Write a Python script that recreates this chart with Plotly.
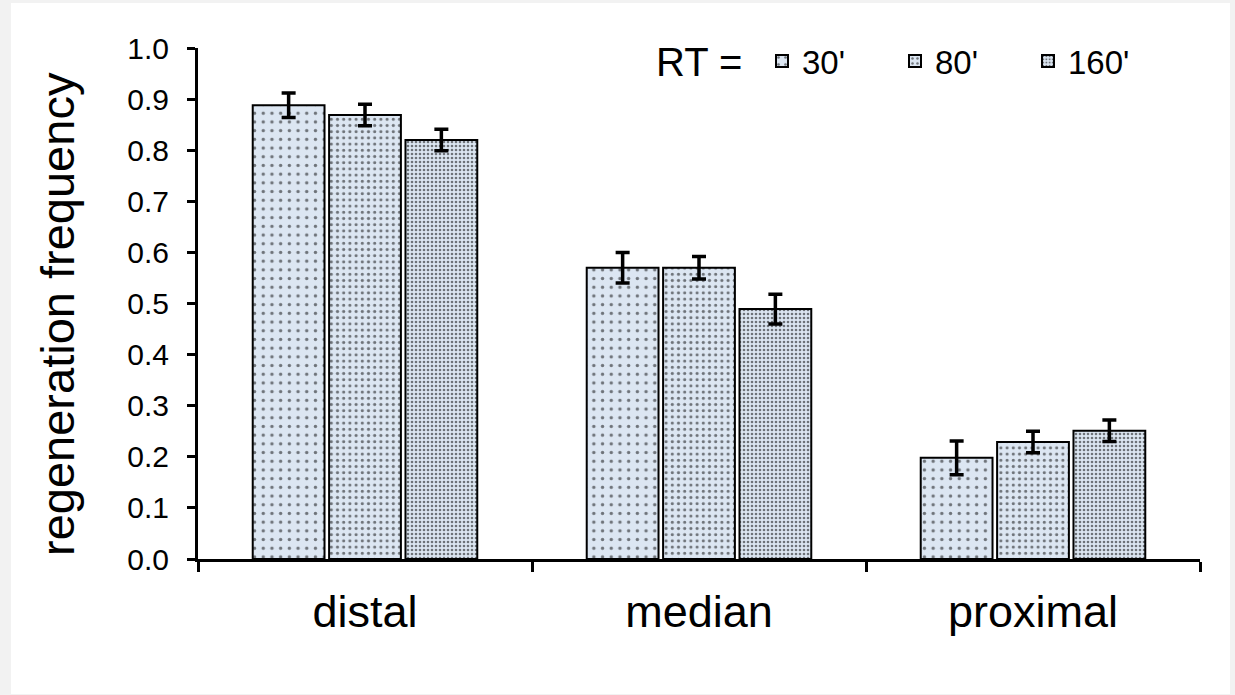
import plotly.graph_objects as go

categories = ["distal", "median", "proximal"]
series_names = ["30'", "80'", "160'"]
values = {
    "30'": [0.888, 0.570, 0.198],
    "80'": [0.869, 0.570, 0.229],
    "160'": [0.820, 0.489, 0.251],
}
errors = {
    "30'": [0.024, 0.030, 0.033],
    "80'": [0.021, 0.022, 0.021],
    "160'": [0.021, 0.029, 0.021],
}
y_ticks = [0.0, 0.1, 0.2, 0.3, 0.4, 0.5, 0.6, 0.7, 0.8, 0.9, 1.0]
y_tick_labels = [f"{v:.1f}" for v in y_ticks]

pattern_size = {"30'": 8.7, "80'": 6.2, "160'": 4}
pattern_solidity = {"30'": 0.12, "80'": 0.2, "160'": 0.34}

FONT = "Liberation Sans, Arial, Helvetica, sans-serif"
FILL = "#dce6f2"

fig = go.Figure()
for name in series_names:
    fig.add_trace(go.Bar(
        x=categories, y=values[name], name=name,
        marker=dict(color=FILL, line=dict(color="black", width=2),
                    pattern=dict(shape=".", fgcolor="black",
                                 size=pattern_size[name],
                                 solidity=pattern_solidity[name])),
        error_y=dict(type="data", array=errors[name], color="black",
                     thickness=3.5, width=7),
    ))

W, H = 1235, 695
L, R, T, B = 198, 35, 48, 136
pw, ph = W - L - R, H - T - B

def px2x(p):
    return (p - L) / pw

def px2y(p):
    return (H - B - p) / ph

fig.update_layout(
    width=W, height=H,
    margin=dict(l=L, r=R, t=T, b=B, autoexpand=False),
    paper_bgcolor="#f2f2f2", plot_bgcolor="rgba(0,0,0,0)",
    font=dict(family=FONT, color="black"),
    barmode="group", bargap=0.314, bargroupgap=0.06,
    showlegend=True,
    legend=dict(orientation="h", x=px2x(762), y=px2y(33),
                xanchor="left", yanchor="top",
                font=dict(size=33, family=FONT),
                entrywidth=88, entrywidthmode="pixels",
                bgcolor="rgba(0,0,0,0)", itemclick=False),
    shapes=[dict(type="rect", xref="paper", yref="paper",
                 x0=px2x(11), x1=px2x(1230), y0=px2y(694), y1=px2y(3),
                 fillcolor="white", line=dict(width=0), layer="below")],
    annotations=[
        dict(text="RT =", xref="paper", yref="paper", x=px2x(699), y=px2y(62),
             xanchor="center", yanchor="middle", showarrow=False,
             font=dict(size=40, family=FONT)),
        dict(text="regeneration frequency", xref="paper", yref="paper",
             x=px2x(57), y=px2y(314), xanchor="center", yanchor="middle",
             textangle=-90, showarrow=False, font=dict(size=47, family=FONT)),
    ],
)
fig.update_xaxes(
    type="category", range=[-0.5, 2.5], showline=True, linecolor="black",
    linewidth=3, ticks="outside", tickson="boundaries", ticklen=10,
    tickwidth=3, tickcolor="black", tickfont=dict(size=45, family=FONT),
    ticklabelstandoff=11, showgrid=False, zeroline=False,
)
fig.update_yaxes(
    range=[0, 1.0], tickvals=y_ticks, ticktext=y_tick_labels,
    showline=True, linecolor="black", linewidth=3, ticks="outside",
    ticklen=8, tickwidth=3, tickcolor="black",
    tickfont=dict(size=30, family=FONT), ticklabelstandoff=12,
    showgrid=False, zeroline=False,
)
fig.write_html("out.html")
